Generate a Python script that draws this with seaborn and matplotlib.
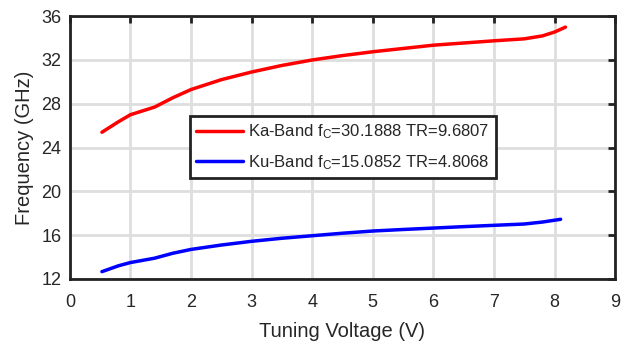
import matplotlib
matplotlib.use("Agg")
import matplotlib.pyplot as plt
import seaborn as sns
import pandas as pd
import numpy as np

# Data
ka_v = [0.53, 0.8, 1.0, 1.4, 1.7, 2.0, 2.5, 3.0, 3.5, 4.0, 4.5, 5.0, 5.5, 6.0, 6.5, 7.0, 7.5, 7.8, 8.0, 8.18]
ka_f = [25.4, 26.35, 27.0, 27.7, 28.55, 29.3, 30.2, 30.9, 31.5, 32.0, 32.4, 32.75, 33.05, 33.35, 33.55, 33.75, 33.93, 34.2, 34.55, 35.0]
ku_v = [0.53, 0.8, 1.0, 1.4, 1.7, 2.0, 2.5, 3.0, 3.5, 4.0, 4.5, 5.0, 5.5, 6.0, 6.5, 7.0, 7.5, 7.8, 8.1]
ku_f = [12.67, 13.2, 13.5, 13.9, 14.35, 14.7, 15.1, 15.44, 15.72, 15.95, 16.18, 16.38, 16.52, 16.65, 16.78, 16.9, 17.02, 17.2, 17.45]
labels = ["Ka-Band f$_\\mathrm{C}$=30.1888 TR=9.6807",
          "Ku-Band f$_\\mathrm{C}$=15.0852 TR=4.8068"]
x_ticks = list(range(0, 10))
y_ticks = [12, 16, 20, 24, 28, 32, 36]

df = pd.concat([
    pd.DataFrame({"V": ka_v, "F": ka_f, "band": labels[0]}),
    pd.DataFrame({"V": ku_v, "F": ku_f, "band": labels[1]}),
])

sns.set_theme(style="white")
plt.rcParams['font.family'] = ['Liberation Sans', 'DejaVu Sans']
plt.rcParams['mathtext.fontset'] = 'custom'
plt.rcParams['mathtext.rm'] = 'Liberation Sans'
plt.rcParams['mathtext.it'] = 'Liberation Sans:italic'

fig = plt.figure(figsize=(6.29, 3.44), dpi=100)
ax = fig.add_axes([0.111, 0.189, 0.867, 0.764])

sns.lineplot(data=df, x="V", y="F", hue="band", palette=["#ff0000", "#0000ff"],
             linewidth=2.5, ax=ax, sort=False)

ax.set_xlim(0, 9)
ax.set_ylim(12, 36)
ax.set_xticks(x_ticks)
ax.set_yticks(y_ticks)
ax.grid(True, color="#dedede", linewidth=2)
ax.set_axisbelow(True)
for s in ax.spines.values():
    s.set_color("#222222")
    s.set_linewidth(2)
ax.tick_params(direction="in", length=5, width=2, color="#222222",
               top=True, right=True, labelsize=13, labelcolor="#262626")
ax.tick_params(axis="x", pad=11)
ax.tick_params(axis="y", pad=6)
ax.set_xlabel("Tuning Voltage (V)", fontsize=14.5, color="#262626", labelpad=8)
ax.set_ylabel("Frequency (GHz)", fontsize=14.5, color="#262626", labelpad=5)

leg = ax.legend(loc="upper left", bbox_to_anchor=(0.22, 0.62), fontsize=12,
                frameon=True, fancybox=False, handlelength=2.8,
                borderpad=0.4, labelspacing=0.7, handletextpad=0.3, borderaxespad=0)
leg.get_frame().set_edgecolor("#222222")
leg.get_frame().set_linewidth(2)
leg.get_frame().set_facecolor("white")
leg.get_frame().set_alpha(1)

fig.savefig("out.png", dpi=100)
